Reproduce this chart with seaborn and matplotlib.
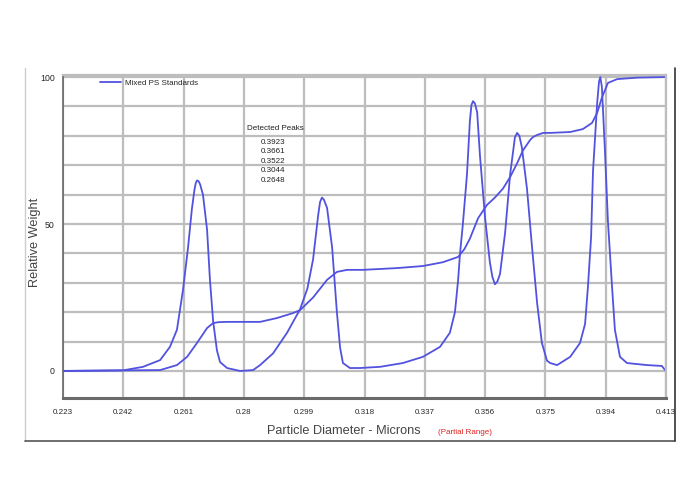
import numpy as np
import pandas as pd
import seaborn as sns
import matplotlib.pyplot as plt
from matplotlib.lines import Line2D
from matplotlib.ticker import MultipleLocator

# --- data ---
# frequency (peak) curve
freq_x = [0.2230, 0.2419, 0.2482, 0.2536, 0.2567, 0.2589, 0.2608, 0.2624, 0.2636, 0.2644,
          0.2648, 0.2652, 0.2657, 0.2662, 0.2671, 0.2684, 0.2693, 0.2703, 0.2715, 0.2725,
          0.2747, 0.2788, 0.2829, 0.2851, 0.2892, 0.2936, 0.2977, 0.3000, 0.3018, 0.3034,
          0.3040, 0.3046, 0.3052, 0.3062, 0.3078, 0.3093, 0.3103, 0.3112, 0.3134, 0.3166,
          0.3229, 0.3301, 0.3364, 0.3418, 0.3449, 0.3465, 0.3475, 0.3481, 0.3490, 0.3503,
          0.3512, 0.3517, 0.3522, 0.3528, 0.3535, 0.3544, 0.3560, 0.3575, 0.3583, 0.3591,
          0.3599, 0.3607, 0.3623, 0.3639, 0.3654, 0.3661, 0.3668, 0.3676, 0.3692, 0.3708,
          0.3724, 0.3739, 0.3755, 0.3765, 0.3787, 0.3828, 0.3859, 0.3875, 0.3884, 0.3894,
          0.3900, 0.3913, 0.3919, 0.3923, 0.3928, 0.3938, 0.3947, 0.3960, 0.3969, 0.3985,
          0.4007, 0.4070, 0.4117, 0.4127]
freq_y = [0.0, 0.2, 1.4, 3.7, 8.2, 14.0, 27.5, 42.0, 55.0, 61.5,
          63.8, 64.8, 64.6, 63.5, 60.0, 48.0, 31.0, 17.0, 7.0, 3.0,
          1.0, 0.0, 0.3, 2.0, 6.0, 13.0, 21.0, 28.0, 38.0, 53.0,
          57.5, 59.0, 58.3, 55.5, 42.0, 20.0, 8.0, 2.7, 1.0, 1.0,
          1.4, 2.7, 4.8, 8.2, 13.0, 20.0, 31.0, 40.0, 50.0, 67.0,
          85.0, 90.5, 91.8, 91.0, 88.0, 73.0, 52.0, 37.0, 32.0, 29.5,
          30.5, 33.0, 47.0, 67.0, 79.5, 81.0, 80.0, 76.0, 62.0, 42.0,
          23.0, 9.5, 3.5, 2.7, 2.0, 4.8, 9.5, 16.0, 28.6, 45.6,
          68.0, 91.0, 98.5, 100.0, 96.6, 74.0, 51.0, 28.6, 14.0, 4.8,
          2.7, 2.0, 1.7, 0.3]

# cumulative curve
cum_x = [0.2230, 0.2536, 0.2589, 0.2621, 0.2652, 0.2684, 0.2703, 0.2720, 0.2747, 0.2851,
         0.2904, 0.2955, 0.2977, 0.3018, 0.3062, 0.3093, 0.3125, 0.3175, 0.3282, 0.3364,
         0.3427, 0.3475, 0.3495, 0.3512, 0.3538, 0.3566, 0.3591, 0.3616, 0.3639, 0.3661,
         0.3679, 0.3702, 0.3711, 0.3724, 0.3743, 0.3765, 0.3828, 0.3868, 0.3897, 0.3913,
         0.3928, 0.3947, 0.3976, 0.4039, 0.4127]
cum_y = [0.0, 0.3, 2.0, 4.8, 9.5, 14.6, 16.3, 16.6, 16.7, 16.7,
         18.0, 19.7, 20.7, 25.0, 31.0, 33.7, 34.4, 34.4, 35.0, 35.7,
         37.0, 38.8, 41.5, 45.0, 52.0, 56.5, 59.0, 62.0, 66.0, 70.7,
         75.0, 78.6, 79.6, 80.3, 81.0, 81.0, 81.3, 82.3, 84.4, 87.8,
         93.0, 98.0, 99.3, 99.8, 100.0]

x_ticks = [0.223, 0.242, 0.261, 0.28, 0.299, 0.318, 0.337, 0.356, 0.375, 0.394, 0.413]
x_tick_labels = ["0.223", "0.242", "0.261", "0.28", "0.299", "0.318", "0.337",
                 "0.356", "0.375", "0.394", "0.413"]
y_ticks = [0, 50, 100]
detected_peaks = ["0.3923", "0.3661", "0.3522", "0.3044", "0.2648"]

freq = pd.DataFrame({"diameter": freq_x, "weight": freq_y})
cum = pd.DataFrame({"diameter": cum_x, "weight": cum_y})

sns.set_style("white")
plt.rcParams['font.family'] = ['Liberation Sans', 'DejaVu Sans']

LINE = '#5252e0'
GRID = '#bdbdbd'

fig = plt.figure(figsize=(7, 5), dpi=100)
ax = fig.add_axes([63 / 700, 1 - 398 / 500, 603 / 700, 323 / 500])

sns.lineplot(data=freq, x="diameter", y="weight", ax=ax, color=LINE, lw=1.3,
             estimator=None, label="Mixed PS Standards")
sns.lineplot(data=cum, x="diameter", y="weight", ax=ax, color=LINE, lw=1.3,
             estimator=None)

ax.set_xlim(0.223, 0.413)
ax.set_ylim(-9.2, 100.7)
ax.set_xticks(x_ticks)
ax.set_xticklabels(x_tick_labels, fontsize=5.8)
ax.set_yticks(y_ticks)
ax.set_yticklabels([str(v) for v in y_ticks], fontsize=6.3)
ax.yaxis.set_minor_locator(MultipleLocator(10))

ax.grid(True, which='both', color=GRID, lw=1.6)
ax.set_axisbelow(True)
ax.tick_params(axis='x', which='major', direction='out', length=5, width=1.2,
               color='#333333', pad=3)
ax.tick_params(axis='y', which='both', direction='out', length=4, width=1.0,
               color='#555555', pad=2)
ax.tick_params(axis='x', which='minor', length=0)

for side in ['top', 'right']:
    ax.spines[side].set_color(GRID)
    ax.spines[side].set_linewidth(1.6)
ax.spines['left'].set_color('#666666')
ax.spines['left'].set_linewidth(1.2)
ax.spines['bottom'].set_color('#6a6a6a')
ax.spines['bottom'].set_linewidth(2.2)

ax.set_xlabel("")
ax.set_ylabel("")

leg = ax.legend(loc='upper left', bbox_to_anchor=(0.05, 1.01), frameon=False,
                fontsize=5.8, handlelength=2.6, handletextpad=0.5)

ax.text(0.352, 0.835, "Detected Peaks", transform=ax.transAxes, fontsize=5.8,
        ha='center', va='center', color='#222222')
ax.text(0.349, 0.802, "\n".join(detected_peaks), transform=ax.transAxes, fontsize=5.8,
        ha='center', va='top', color='#222222', linespacing=1.5)

fig.text(344 / 700, 1 - 431 / 500, "Particle Diameter - Microns", fontsize=9.2,
         ha='center', va='center', color='#444444')
fig.text(438 / 700, 1 - 432 / 500, "(Partial Range)", fontsize=5.8,
         ha='left', va='center', color='#e02020')
fig.text(35 / 700, 1 - 242 / 500, "Relative Weight", fontsize=9.2, rotation=90,
         ha='center', va='center', color='#444444')

# panel frame around the chart
fig.add_artist(Line2D([25 / 700, 25 / 700], [1 - 68 / 500, 1 - 441 / 500],
                      transform=fig.transFigure, color='#cccccc', lw=1))
fig.add_artist(Line2D([25 / 700, 675 / 700], [1 - 441 / 500, 1 - 441 / 500],
                      transform=fig.transFigure, color='#555555', lw=1.2))
fig.add_artist(Line2D([675 / 700, 675 / 700], [1 - 68 / 500, 1 - 441 / 500],
                      transform=fig.transFigure, color='#333333', lw=1.2))

fig.savefig("out.png", dpi=100)
